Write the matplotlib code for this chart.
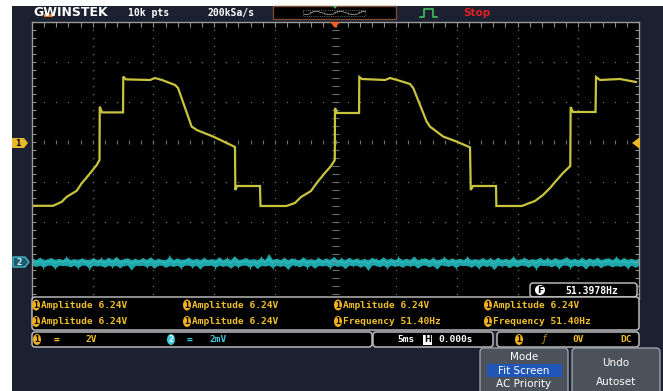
import numpy as np
import matplotlib.pyplot as plt
from matplotlib.patches import FancyBboxPatch, Rectangle, Polygon, Ellipse

# Канал 1: час (мс) та напруга (В)
ch1_t = [-24.92, -23.27, -22.55, -22.14, -21.32, -20.91, -20.22, -19.67, -19.44,
         -19.42, -19.23, -17.50, -17.48, -17.26, -15.28, -14.87, -14.29, -13.22,
         -12.97, -11.85, -11.43, -10.07, -8.96, -8.28, -8.25, -8.11, -6.22, -6.18,
         -4.04, -3.34, -2.84, -2.02, -1.61, -0.95, -0.37, -0.06, -0.04, 0.12, 1.94,
         1.96, 2.18, 4.08, 4.49, 5.07, 6.14, 6.41, 7.51, 7.78, 8.88, 9.98, 11.08,
         11.14, 11.33, 13.22, 13.25, 15.34, 16.43, 17.09, 17.67, 18.16, 18.74,
         19.34, 19.37, 19.56, 21.42, 21.46, 21.79, 23.43, 24.75]
ch1_v = [-3.19, -3.19, -2.99, -2.74, -2.44, -2.07, -1.57, -1.15, -0.90,
         1.77, 1.48, 1.48, 3.27, 3.13, 3.10, 3.20, 3.10, 2.85,
         2.70, 0.77, 0.60, 0.27, -0.05, -0.25, -2.40, -2.20, -2.20, -3.20,
         -3.20, -3.05, -2.75, -2.45, -2.10, -1.60, -1.20, -0.90, 1.70, 1.45, 1.45,
         3.25, 3.15, 3.10, 3.20, 3.10, 2.90, 2.69, 1.02, 0.77, 0.27, 0.02, -0.27,
         -2.40, -2.20, -2.20, -3.20, -3.20, -2.95, -2.65, -2.30, -1.95, -1.55,
         -1.20, 1.75, 1.50, 1.50, 3.25, 3.10, 3.15, 3.00]

# Канал 2: шум (мВ)
ch2_mv = [0.10, -0.06, 0.14, -0.10, 0.04, 0.12, -0.14, 0.08, -0.02, 0.16, -0.08, 0.06, -0.12, 0.10, 0.02, -0.16, 0.12, -0.04, 0.08, -0.10,
          0.14, -0.06, 0.18, -0.12, 0.04, 0.10, -0.22, 0.06, -0.02, 0.12, -0.08, 0.16, -0.14, 0.06, 0.02, -0.10, 0.20, -0.06, 0.10, -0.12,
          0.04, 0.14, -0.08, 0.08, -0.18, 0.12, -0.02, 0.06, -0.10, 0.16, -0.06, 0.10, -0.14, 0.22, -0.08, 0.04, 0.12, -0.10, 0.06, -0.16,
          0.14, -0.04, 0.34, -0.12, 0.08, -0.06, 0.12, -0.20, 0.10, 0.02, -0.08, 0.16, -0.10, 0.06, -0.14, 0.12, -0.04, 0.10, -0.12, 0.18,
          -0.06, 0.08, -0.16, 0.14, -0.02, 0.10, -0.10, 0.06, -0.24, 0.12, 0.04, -0.08, 0.16, -0.12, 0.10, -0.06, 0.14, -0.10, 0.08, -0.04,
          0.20, -0.14, 0.06, 0.10, -0.08, 0.12, -0.18, 0.04, 0.14, -0.06, 0.10, -0.12, 0.08, -0.02, 0.16, -0.10, 0.06, -0.14, 0.12, -0.06,
          0.10, -0.20, 0.14, -0.04, 0.08, -0.12, 0.18, -0.08, 0.04, 0.12, -0.10, 0.06, -0.16, 0.14, -0.02, 0.10, -0.08, 0.12, -0.14, 0.06,
          0.16, -0.10, 0.08, -0.06, 0.12, -0.18, 0.10, -0.04, 0.14, -0.12, 0.06, 0.10, -0.08, 0.16, -0.06, 0.12, -0.14, 0.08, -0.10, 0.10]

# Налаштування осцилографа
ms_per_div = 5.0
v_per_div = 2.0
mv_per_div = 2.0
ch2_pos = -3.0

measure_row1 = ['Amplitude 6.24V', 'Amplitude 6.24V', 'Amplitude 6.24V', 'Amplitude 6.24V']
measure_row2 = ['Amplitude 6.24V', 'Amplitude 6.24V', 'Frequency 51.40Hz', 'Frequency 51.40Hz']
freq_text = '51.3978Hz'

W, H = 663, 391
bg = '#1b2130'
yellow = '#c9c43e'
label_y = '#f0bf2a'
teal = '#1fa8ab'
grid_c = '#707070'
mono = 'DejaVu Sans Mono'

fig = plt.figure(figsize=(W / 100, H / 100), dpi=100, facecolor=bg)

# Область екрана
ax = fig.add_axes([32 / W, 1 - 298 / H, (639 - 32) / W, (298 - 22) / H], facecolor='black')
ax.set_xlim(-5 * ms_per_div, 5 * ms_per_div)
ax.set_ylim(-3.9, 3.0)
ax.set_xticks([])
ax.set_yticks([])
for s in ax.spines.values():
    s.set_color('#9a9a9a')
    s.set_linewidth(1)

# Сітка з точок
ys = np.arange(-3.8, 3.0, 0.2)
xs = np.arange(-24, 25, 1.0)
for xv in np.arange(-20, 21, 5):
    if xv != 0:
        ax.plot([xv] * len(ys), ys, ls='none', marker='s', ms=0.9, mew=0, color=grid_c)
for yv in [-3, -2, -1, 1, 2]:
    ax.plot(xs, [yv] * len(xs), ls='none', marker='s', ms=0.9, mew=0, color=grid_c)
ax.hlines(ys, -0.25, 0.25, color=grid_c, lw=0.8)
ax.vlines(xs, -0.06, 0.06, color=grid_c, lw=0.8)
ax.vlines(xs, 2.88, 3.0, color='#8a8a8a', lw=0.8)
ax.hlines(ys, -25, -24.7, color='#8a8a8a', lw=0.8)
ax.hlines(ys, 24.7, 25, color='#8a8a8a', lw=0.8)

# Сигнал каналу 1
ax.plot(ch1_t, np.array(ch1_v) / v_per_div, color=yellow, lw=1.6, solid_joinstyle='miter')

# Канал 2: смуга шуму
noise = np.array(ch2_mv) / mv_per_div
t2 = np.linspace(-25, 25, len(ch2_mv))
top = ch2_pos + 0.06 + np.clip(noise, 0, None) * 0.9
bot = ch2_pos - 0.08 + np.clip(noise, None, 0) * 1.1
ax.fill_between(t2, bot, top, color=teal, lw=0)
ax.vlines(t2[::3], bot[::3] - 0.03, top[::3] + 0.02, color=teal, lw=0.8)
ax.plot(t2, ch2_pos + noise * 0.4, color='#2cc0c0', lw=0.8)

# Інтерфейс поверх усього (піксельні координати)
ui = fig.add_axes([0, 0, 1, 1], zorder=5)
ui.set_xlim(0, W)
ui.set_ylim(H, 0)
ui.axis('off')
ui.patch.set_alpha(0)

ui.add_patch(Rectangle((0, 0), W, 6, fc='white', ec='none'))
ui.add_patch(Rectangle((0, 0), 12, H, fc='white', ec='none'))


def rbox(x, y, w, h, fc='black', ec='#c8c8c8', lw=1.0, r=3):
    ui.add_patch(FancyBboxPatch((x, y), w, h, boxstyle=f'round,pad=0,rounding_size={r}',
                                fc=fc, ec=ec, lw=lw))


def icon(x, y, txt, fc, tc='black'):
    ui.add_patch(Ellipse((x, y), 8, 11, fc=fc, ec='none'))
    ui.text(x, y + 0.5, txt, color=tc, fontsize=6, fontweight='bold', ha='center', va='center',
            family=mono)


# Верхній рядок
ui.text(33, 12.5, 'GWINSTEK', color='white', fontsize=9, fontweight='bold', va='center',
        family='DejaVu Sans')
ui.add_patch(Rectangle((44, 14), 9, 3, fc='#e07a20', ec='none'))
ui.text(128, 13, '10k pts', color='white', fontsize=7, fontweight='bold', va='center', family=mono)
ui.text(207, 13, '200kSa/s', color='white', fontsize=7, fontweight='bold', va='center', family=mono)
ui.add_patch(Rectangle((273, 6), 123, 13, fc='black', ec='#7a4a30', lw=1))
ui.add_patch(Rectangle((303, 10), 62, 6, fc='none', ec='#8a8a8a', lw=0.6, ls=':'))
ui.plot(335 + np.array(ch1_t) * 62 / 50, 13 - np.array(ch1_v) * 0.5, color='#b0b0a0', lw=0.5)
ui.add_patch(Polygon([(333, 6), (337, 6), (335, 9)], fc='#3ec060', ec='none'))
ui.plot([420, 424, 424, 433, 433, 437], [17, 17, 9, 9, 17, 17], color='#3ec060', lw=1.2)
ui.text(463, 13, 'Stop', color='#e02020', fontsize=7.5, fontweight='bold', va='center')
ui.add_patch(Polygon([(330, 22), (340, 22), (335, 28)], fc='#f06020', ec='none'))

# Маркери каналів
ui.add_patch(Polygon([(12, 138), (24, 138), (28, 143), (24, 148), (12, 148)], fc='#e8b828', ec='none'))
ui.text(18, 143.5, '1', color='black', fontsize=6.5, fontweight='bold', ha='center', va='center',
        family=mono)
ui.add_patch(Polygon([(13, 257), (25, 257), (29, 262), (25, 267), (13, 267)], fc='#1d5d72',
                     ec='#45c6d6', lw=0.9))
ui.text(19, 262.5, '2', color='#e0f8ff', fontsize=6.5, fontweight='bold', ha='center', va='center',
        family=mono)
ui.add_patch(Polygon([(640, 137), (640, 149), (632, 143)], fc='#e8b828', ec='none'))

# Частотомір
rbox(530, 283, 107, 14)
ui.add_patch(Ellipse((540, 290), 10, 10, fc='white', ec='none'))
ui.text(540, 290.5, 'F', color='black', fontsize=6.5, fontweight='bold', ha='center', va='center')
ui.text(565, 290.5, freq_text, color='white', fontsize=7, fontweight='bold', va='center', family=mono)

# Панель вимірювань
rbox(32, 297, 607, 33)
cols = [36, 187, 338, 488]
for cx, m1, m2 in zip(cols, measure_row1, measure_row2):
    icon(cx, 305, '1', '#f0b020')
    icon(cx, 321.5, '1', '#f0b020')
    ui.text(cx + 5, 305, m1, color=label_y, fontsize=6.8, fontweight='bold', va='center', family=mono)
    ui.text(cx + 5, 321.5, m2, color=label_y, fontsize=6.8, fontweight='bold', va='center', family=mono)

# Рядок масштабів
rbox(32, 332, 340, 15)
rbox(373, 332, 120, 15)
rbox(497, 332, 142, 15)
icon(37, 339.5, '1', '#f0b020')
ui.text(54, 339.5, '=', color=label_y, fontsize=7, fontweight='bold', va='center', family=mono)
ui.text(85, 339.5, '2V', color=label_y, fontsize=6.8, fontweight='bold', va='center', family=mono)
icon(171, 339.5, '2', '#3cc8d8', tc='white')
ui.text(187, 339.5, '=', color='#3cc8d8', fontsize=7, fontweight='bold', va='center', family=mono)
ui.text(209, 339.5, '2mV', color='#3cc8d8', fontsize=6.8, fontweight='bold', va='center', family=mono)
ui.text(397, 339.5, '5ms', color='white', fontsize=6.8, fontweight='bold', va='center', family=mono)
ui.add_patch(Rectangle((423, 334.5), 9, 10, fc='white', ec='none'))
ui.text(427.5, 340, 'H', color='black', fontsize=6, fontweight='bold', ha='center', va='center')
ui.text(438, 339.5, '0.000s', color='white', fontsize=6.8, fontweight='bold', va='center', family=mono)
icon(519, 339.5, '1', '#f0b020')
ui.text(543, 339.5, 'ƒ', color='#c08a20', fontsize=7, va='center', style='italic')
ui.text(572, 339.5, '0V', color=label_y, fontsize=6.8, fontweight='bold', va='center', family=mono)
ui.text(620, 339.5, 'DC', color=label_y, fontsize=6.8, fontweight='bold', va='center', family=mono)

# Кнопки меню
rbox(480, 348, 88, 46, fc='#4c525c', ec='#9aa0a8', r=4)
rbox(572, 348, 88, 46, fc='#4c525c', ec='#9aa0a8', r=4)
ui.add_patch(Rectangle((487, 364), 75, 13, fc='#1f56b8', ec='none'))
ui.text(524, 357, 'Mode', color='white', fontsize=7.5, ha='center', va='center')
ui.text(524, 370.5, 'Fit Screen', color='white', fontsize=7.5, ha='center', va='center')
ui.text(524, 384, 'AC Priority', color='white', fontsize=7.5, ha='center', va='center')
ui.text(616, 363, 'Undo', color='white', fontsize=7.5, ha='center', va='center')
ui.text(616, 382, 'Autoset', color='white', fontsize=7.5, ha='center', va='center')

plt.savefig('out.png', dpi=100, facecolor=bg)
